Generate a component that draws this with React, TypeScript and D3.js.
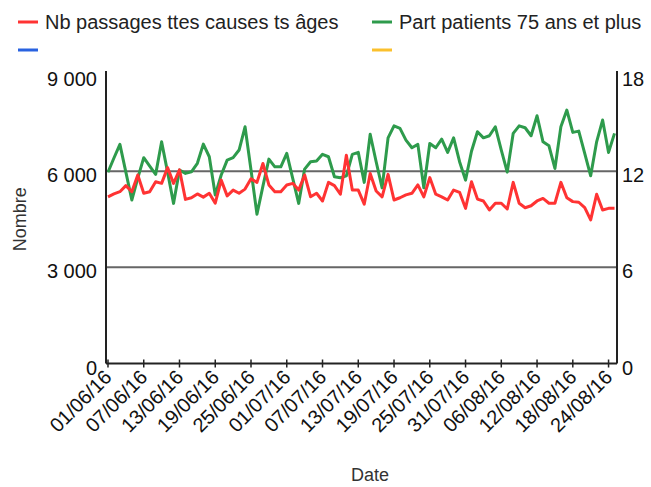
import React from "react";
import * as d3 from "d3";

const startDate = "2016-06-01";
const passages = [
  5200, 5290, 5360, 5550, 5360, 5880, 5310, 5360, 5670, 5620,
  6110, 5620, 6040, 5120, 5170, 5290, 5190, 5310, 5000, 5720,
  5230, 5410, 5310, 5440, 5760, 5650, 6240, 5570, 5360, 5360,
  5570, 5620, 5410, 5880, 5200, 5310, 5070, 5650, 5550, 5280,
  6500, 5410, 5410, 4970, 5930, 5380, 5200, 5900, 5100, 5170,
  5260, 5310, 5570, 5200, 5800, 5280, 5200, 5100, 5410, 5340,
  4840, 5670, 5130, 5070, 4790, 5000, 5000, 4820, 5650, 5000,
  4860, 4920, 5070, 5150, 5000, 5000, 5650, 5170, 5050, 5030,
  4860, 4480, 5280, 4790, 4840, 4840,
];
const part75 = [
  11.93, 12.82, 13.67, 11.94, 10.2, 11.57, 12.84, 12.32, 11.8, 13.83,
  11.94, 9.99, 12.07, 11.86, 11.96, 12.49, 13.69, 12.9, 10.51, 11.76,
  12.69, 12.84, 13.32, 14.77, 12.07, 9.31, 11.07, 12.75, 12.27, 12.27,
  13.11, 11.55, 9.99, 12.13, 12.59, 12.63, 13.05, 12.9, 11.65, 11.59,
  11.71, 13.05, 13.17, 11.3, 14.3, 12.59, 10.96, 14.08, 14.83, 14.67,
  13.94, 13.46, 13.67, 10.96, 13.73, 13.46, 14.0, 13.17, 14.08, 12.59,
  11.44, 13.24, 14.46, 14.08, 14.21, 14.77, 13.32, 11.94, 14.36, 14.83,
  14.71, 14.21, 15.46, 13.83, 13.58, 12.17, 14.77, 15.81, 14.42, 14.5,
  13.11, 11.71, 13.83, 15.19, 13.17, 14.36,
];
const leftTicks = [0, 3000, 6000, 9000];
const rightTicks = [0, 6, 12, 18];
const gridValues = [3000, 6000];
const xTickStepDays = 6;
const legendItems = [
  { label: "Nb passages ttes causes ts âges", color: "#ff3333" },
  { label: "Part patients 75 ans et plus", color: "#2e9b4c" },
  { label: "", color: "#2962e0" },
  { label: "", color: "#fbc02d" },
];

const W = 651;
const H = 487;
const L = 106;
const R = 617;
const T = 75;
const B = 363.5;
const FONT = "Arial, 'Liberation Sans', sans-serif";

export default function App() {
  const start = d3.timeParse("%Y-%m-%d")(startDate) as Date;
  const dates = passages.map((_, i) => d3.timeDay.offset(start, i));
  const last = dates[dates.length - 1];
  const x = d3
    .scaleTime()
    .domain([d3.timeHour.offset(start, -8), d3.timeHour.offset(last, 10)])
    .range([L, R]);
  const yL = d3.scaleLinear().domain([0, 9000]).range([B, T]);
  const yR = d3.scaleLinear().domain([0, 18]).range([B, T]);
  const xTicks = d3.timeDay
    .range(start, d3.timeDay.offset(last, 1))
    .filter((_, i) => i % xTickStepDays === 0);
  const fmt = d3.timeFormat("%d/%m/%y");
  const fmtL = (v: number) => d3.format(",")(v).replace(",", " ");

  const lineL = d3
    .line<number>()
    .x((_, i) => x(dates[i]))
    .y((d) => yL(d));
  const lineR = d3
    .line<number>()
    .x((_, i) => x(dates[i]))
    .y((d) => yR(d));

  const legendPos = [
    { x: 18, y: 22 },
    { x: 372, y: 22 },
    { x: 18, y: 50 },
    { x: 372, y: 50 },
  ];

  return (
    <svg width={W} height={H} style={{ display: "block", position: "absolute", left: 0, top: 0 }} fontFamily={FONT}>
      <rect width={W} height={H} fill="#fff" />
      {legendItems.map((it, i) => (
        <g key={i} transform={`translate(${legendPos[i].x},${legendPos[i].y})`}>
          <line x1={0} x2={20} y1={0} y2={0} stroke={it.color} strokeWidth={3} />
          {it.label && (
            <text x={27} y={7} fontSize={20} fill="#222">
              {it.label}
            </text>
          )}
        </g>
      ))}
      {gridValues.map((v) => (
        <line key={v} x1={L} x2={R} y1={yL(v)} y2={yL(v)} stroke="#666" strokeWidth={2} />
      ))}
      <path d={lineR(part75) || ""} fill="none" stroke={legendItems[1].color} strokeWidth={3} strokeLinejoin="round" />
      <path d={lineL(passages) || ""} fill="none" stroke={legendItems[0].color} strokeWidth={3} strokeLinejoin="round" />
      <line x1={L} x2={L} y1={T - 4} y2={B} stroke="#222" strokeWidth={2} />
      <line x1={R} x2={R} y1={T - 4} y2={B} stroke="#222" strokeWidth={2} />
      <line x1={L} x2={R} y1={B} y2={B} stroke="#222" strokeWidth={2} />
      {xTicks.map((d, i) => (
        <g key={i}>
          <line x1={x(d)} x2={x(d)} y1={B - 4} y2={B + 4} stroke="#222" strokeWidth={1.5} />
          <text
            transform={`translate(${x(d) + 5},${B + 15}) rotate(-45)`}
            textAnchor="end"
            fontSize={20}
            fill="#111"
          >
            {fmt(d)}
          </text>
        </g>
      ))}
      {leftTicks.map((v) => (
        <text key={v} x={97} y={yL(v) + 11} textAnchor="end" fontSize={20} fill="#111">
          {fmtL(v)}
        </text>
      ))}
      {rightTicks.map((v) => (
        <text key={v} x={622} y={yR(v) + 11} textAnchor="start" fontSize={20} fill="#111">
          {v}
        </text>
      ))}
      <text transform={`translate(26,${(T + B) / 2}) rotate(-90)`} textAnchor="middle" fontSize={18} fill="#333">
        Nombre
      </text>
      <text x={370} y={487 - 6} textAnchor="middle" fontSize={18} fill="#333">
        Date
      </text>
    </svg>
  );
}
